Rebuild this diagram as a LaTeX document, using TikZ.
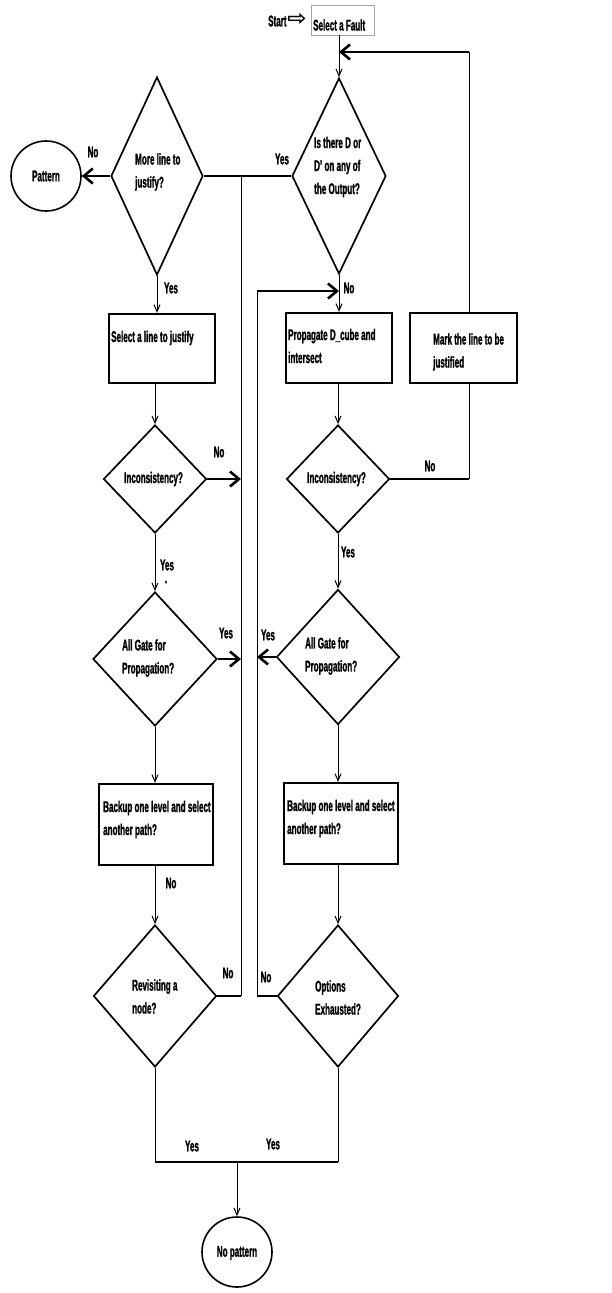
\documentclass[tikz,border=0pt]{standalone}
\usepackage{fontspec}
\setmainfont{Liberation Sans}[FakeStretch=0.52, BoldFeatures={FakeBold=1.2}]
\newfontfamily\symfont{DejaVu Sans}[FakeStretch=1.1]
\usetikzlibrary{shapes.geometric,arrows.meta}
\begin{document}
\begin{tikzpicture}[x=1pt,y=-1pt,
  every node/.style={font=\bfseries\fontsize{15.5}{23}\selectfont},
  dia/.style={draw, diamond, line width=1.7pt, inner sep=0pt},
  box/.style={draw, rectangle, line width=2.2pt, inner sep=0pt},
  circ/.style={draw, circle, line width=1.6pt, minimum size=70pt, inner sep=0pt},
  txt/.style={inner sep=0pt, align=left, anchor=west},
  lbl/.style={inner sep=0pt},
  thinarr/.style={line width=1pt, -{Straight Barb[length=7pt,width=6pt]}},
  thinline/.style={line width=1pt},
  thickarr/.style={line width=2.6pt, -{Straight Barb[length=9pt,width=15pt]}},
  thickline/.style={line width=2.6pt},
]
\useasboundingbox[fill=white] (0,0) rectangle (612,1293);

% start
\node[draw=gray!70, line width=0.8pt, rectangle, minimum width=63pt, minimum height=30pt, inner sep=0pt] (fault) at (342.5,20) {};
\node[txt] (faultt) at (313,25) {Select a Fault};
\node[txt] (startt) at (268,21) {Start};
\node[inner sep=0pt, font=\symfont\bfseries\fontsize{21}{21}\selectfont] (startarr) at (297,19) {⇨};

% diamonds
\node[dia, minimum width=94pt, minimum height=196pt] (d1) at (339,176) {};
\node[dia, minimum width=92pt, minimum height=198pt] (d2) at (157,176) {};
\node[circ] (pat) at (46,176) {};
\node[lbl] (patt) at (46,176) {Pattern};

\node[txt] (d1t) at (314,167) {Is there D or\\D' on any of\\the Output?};
\node[txt] (d2t) at (135,172) {More line to\\justify?};

% boxes
\node[box, minimum width=106pt, minimum height=69pt] (sel) at (162,348.5) {};
\node[box, minimum width=106pt, minimum height=70pt] (prop) at (339,348) {};
\node[box, minimum width=107pt, minimum height=70pt] (mark) at (463.5,348) {};
\node[txt] (selt) at (111,338) {Select a line to justify};
\node[txt] (propt) at (288,346) {Propagate D\_cube and\\intersect};
\node[txt] (markt) at (433,352) {Mark the line to be\\justified};

\node[dia, minimum width=103pt, minimum height=108pt] (inc1) at (155,479) {};
\node[dia, minimum width=103pt, minimum height=108pt] (inc2) at (338,479) {};
\node[txt] (inc1t) at (124,479) {Inconsistency?};
\node[txt] (inc2t) at (307,479) {Inconsistency?};

\node[dia, minimum width=124pt, minimum height=134pt] (ag1) at (155,659) {};
\node[dia, minimum width=123pt, minimum height=135pt] (ag2) at (338,657) {};
\node[txt] (ag1t) at (122,658) {All Gate for\\Propagation?};
\node[txt] (ag2t) at (305,656) {All Gate for\\Propagation?};

\node[box, minimum width=114pt, minimum height=81pt] (bk1) at (156,824.5) {};
\node[box, minimum width=114pt, minimum height=81pt] (bk2) at (341,823.5) {};
\node[txt] (bk1t) at (103,819.5) {Backup one level and select\\another path?};
\node[txt] (bk2t) at (287,818.5) {Backup one level and select\\another path?};

\node[dia, minimum width=123pt, minimum height=142pt] (rv) at (155,996) {};
\node[dia, minimum width=121pt, minimum height=142pt] (op) at (338,996) {};
\node[txt] (rvt) at (132,996.5) {Revisiting a\\node?};
\node[txt] (opt) at (315,997.5) {Options\\Exhausted?};

\node[circ] (np) at (237,1252) {};
\node[lbl] (npt) at (237,1253) {No pattern};

% coordinates
\coordinate (mk) at (469,52);
\coordinate (mkb) at (469,479);
\coordinate (jl) at (241,176);
\coordinate (jlb) at (241,996);
\coordinate (jr) at (257,291);
\coordinate (jrb) at (257,996);
\coordinate (bot) at (237,1162);

% connectors
\draw[thinarr] (fault.south -| d1.north) -- (d1.north);
\draw[thinline] (mk |- mark.north) -- (mk);
\draw[thickarr] (mk) -- (mk -| d1.north);

\draw[thickarr] (d2.west) -- (pat.east);
\draw[thickline] (d1.west) -- (d2.east);
\draw[thinline] (jl) -- (jlb);
\draw[thickline] (rv.east) -- (jlb);
\draw[thickarr] (inc1.east) -- (inc1.east -| jl);
\draw[thickarr] (ag1.east) -- (ag1.east -| jl);

\draw[thinline] (jr) -- (jrb);
\draw[thickarr] (jr) -- (jr -| d1.south);
\draw[thickline] (op.west) -- (jrb);
\draw[thickarr] (ag2.west) -- (ag2.west -| jr);

\draw[thinarr] (d1.south) -- (d1.south |- prop.north);
\draw[thinarr] (d2.south) -- (d2.south |- sel.north);
\draw[thinarr] (inc1.north |- sel.south) -- (inc1.north);
\draw[thinarr] (inc1.south) -- (ag1.north);
\draw[thinarr] (ag1.south) -- (ag1.south |- bk1.north);
\draw[thinarr] (rv.north |- bk1.south) -- (rv.north);

\draw[thinarr] (inc2.north |- prop.south) -- (inc2.north);
\draw[thinarr] (inc2.south) -- (ag2.north);
\draw[thinarr] (ag2.south) -- (ag2.south |- bk2.north);
\draw[thinarr] (op.north |- bk2.south) -- (op.north);

\draw[thickline] (inc2.east) -- (mkb);
\draw[thinline] (mkb) -- (mkb |- mark.south);

\draw[thinline] (rv.south) -- (rv.south |- bot);
\draw[thickline] (rv.south |- bot) -- (op.south |- bot);
\draw[thinline] (op.south |- bot) -- (op.south);
\draw[thinarr] (bot) -- (np.north);

% labels
\node[lbl] (l1) at (93,152) {No};
\node[lbl] (l2) at (282,159) {Yes};
\node[lbl] (l3) at (349,288) {No};
\node[lbl] (l4) at (171,288) {Yes};
\node[lbl] (l5) at (219,452) {No};
\node[lbl] (l6) at (430,466) {No};
\node[lbl] (l7) at (167,565) {Yes};
\node[lbl] (l7b) at (166,582) {.};
\node[lbl] (l8) at (348,552) {Yes};
\node[lbl] (l9) at (226,633) {Yes};
\node[lbl] (l10) at (268,635) {Yes};
\node[lbl] (l11) at (171,883) {No};
\node[lbl] (l12) at (228,973) {No};
\node[lbl] (l13) at (266,977) {No};
\node[lbl] (l14) at (192,1146) {Yes};
\node[lbl] (l15) at (273,1144) {Yes};
\end{tikzpicture}
\end{document}
